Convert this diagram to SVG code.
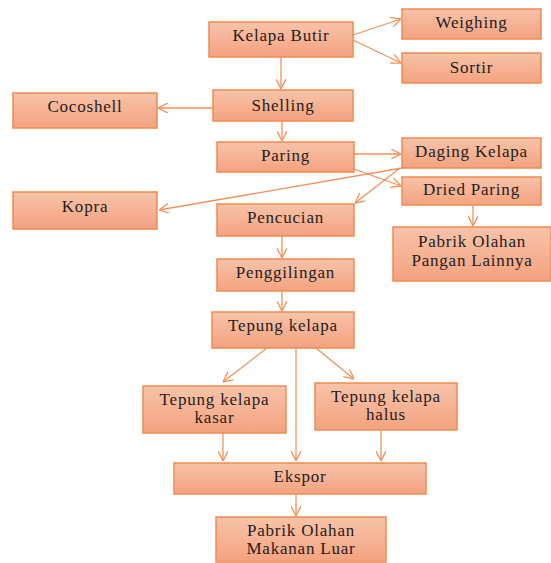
<svg xmlns="http://www.w3.org/2000/svg" width="551" height="563" viewBox="0 0 551 563">
<defs>
<linearGradient id="g" x1="0" y1="0" x2="0" y2="1">
<stop offset="0" stop-color="#f8c3a9"/>
<stop offset="1" stop-color="#f4a27f"/>
</linearGradient>
<marker id="a" viewBox="0 0 10 10" refX="10" refY="5" markerWidth="10" markerHeight="10" markerUnits="userSpaceOnUse" orient="auto">
<path d="M0,0 L10,5 L0,10" fill="none" stroke="#f4915a" stroke-width="1.3"/>
</marker>
<style>
.b{fill:url(#g);stroke:#f08b4f;stroke-width:1.5}
.t{font-family:'Liberation Serif','Times New Roman',serif;font-size:17px;letter-spacing:0.8px;fill:#1e1e1e;text-anchor:middle}
.c line{stroke:#f4915a;stroke-width:1.3;fill:none;marker-end:url(#a)}
</style>
</defs>
<rect width="551" height="563" fill="#ffffff"/>
<g class="c" id="connectors">
<line x1="353" y1="35" x2="401" y2="19"/>
<line x1="353" y1="40" x2="401" y2="63"/>
<line x1="281" y1="57" x2="281" y2="89"/>
<line x1="213" y1="108" x2="158" y2="108"/>
<line x1="282" y1="121" x2="282" y2="141"/>
<line x1="354" y1="154" x2="401" y2="154"/>
<line x1="354" y1="169" x2="401" y2="186"/>
<line x1="402" y1="168" x2="159" y2="210"/>
<line x1="400" y1="168" x2="355" y2="203"/>
<line x1="473" y1="206" x2="473" y2="226"/>
<line x1="282" y1="236" x2="282" y2="258"/>
<line x1="282" y1="291" x2="282" y2="311"/>
<line x1="267" y1="348" x2="223" y2="382"/>
<line x1="296" y1="348" x2="296" y2="461"/>
<line x1="316" y1="348" x2="354" y2="379"/>
<line x1="223" y1="433" x2="223" y2="461"/>
<line x1="381" y1="430" x2="381" y2="461"/>
<line x1="296" y1="494" x2="296" y2="516"/>
</g>
<g id="kelapa-butir"><rect class="b" x="209" y="22" width="144" height="35"/><text class="t" x="281" y="41">Kelapa Butir</text></g>
<g id="weighing"><rect class="b" x="402" y="9" width="139" height="30"/><text class="t" x="471.5" y="28">Weighing</text></g>
<g id="sortir"><rect class="b" x="402" y="53" width="139" height="30"/><text class="t" x="471.5" y="73">Sortir</text></g>
<g id="shelling"><rect class="b" x="213" y="90" width="140" height="31"/><text class="t" x="283" y="111">Shelling</text></g>
<g id="cocoshell"><rect class="b" x="13" y="93" width="144" height="35"/><text class="t" x="85" y="112">Cocoshell</text></g>
<g id="paring"><rect class="b" x="217" y="142" width="137" height="30"/><text class="t" x="285.5" y="161">Paring</text></g>
<g id="daging-kelapa"><rect class="b" x="402" y="138" width="139" height="30"/><text class="t" x="471.5" y="157">Daging Kelapa</text></g>
<g id="dried-paring"><rect class="b" x="402" y="177" width="139" height="28"/><text class="t" x="471.5" y="195">Dried Paring</text></g>
<g id="kopra"><rect class="b" x="13" y="192" width="144" height="37"/><text class="t" x="85" y="212">Kopra</text></g>
<g id="pencucian"><rect class="b" x="217" y="204" width="137" height="32"/><text class="t" x="285.5" y="223">Pencucian</text></g>
<g id="pabrik-pangan"><rect class="b" x="393" y="227" width="158" height="54"/><text class="t" x="472" y="247">Pabrik Olahan</text><text class="t" x="472" y="266">Pangan Lainnya</text></g>
<g id="penggilingan"><rect class="b" x="217" y="259" width="137" height="32"/><text class="t" x="285.5" y="278">Penggilingan</text></g>
<g id="tepung-kelapa"><rect class="b" x="212" y="312" width="142" height="36"/><text class="t" x="283" y="331">Tepung kelapa</text></g>
<g id="tepung-kasar"><rect class="b" x="143" y="386" width="143" height="47"/><text class="t" x="214.5" y="405">Tepung kelapa</text><text class="t" x="214.5" y="423">kasar</text></g>
<g id="tepung-halus"><rect class="b" x="315" y="383" width="142" height="47"/><text class="t" x="386" y="402">Tepung kelapa</text><text class="t" x="386" y="420">halus</text></g>
<g id="ekspor"><rect class="b" x="174" y="463" width="252" height="31"/><text class="t" x="300" y="482">Ekspor</text></g>
<g id="pabrik-luar"><rect class="b" x="216" y="517" width="170" height="45"/><text class="t" x="301" y="536">Pabrik Olahan</text><text class="t" x="301" y="554">Makanan Luar</text></g>
</svg>
